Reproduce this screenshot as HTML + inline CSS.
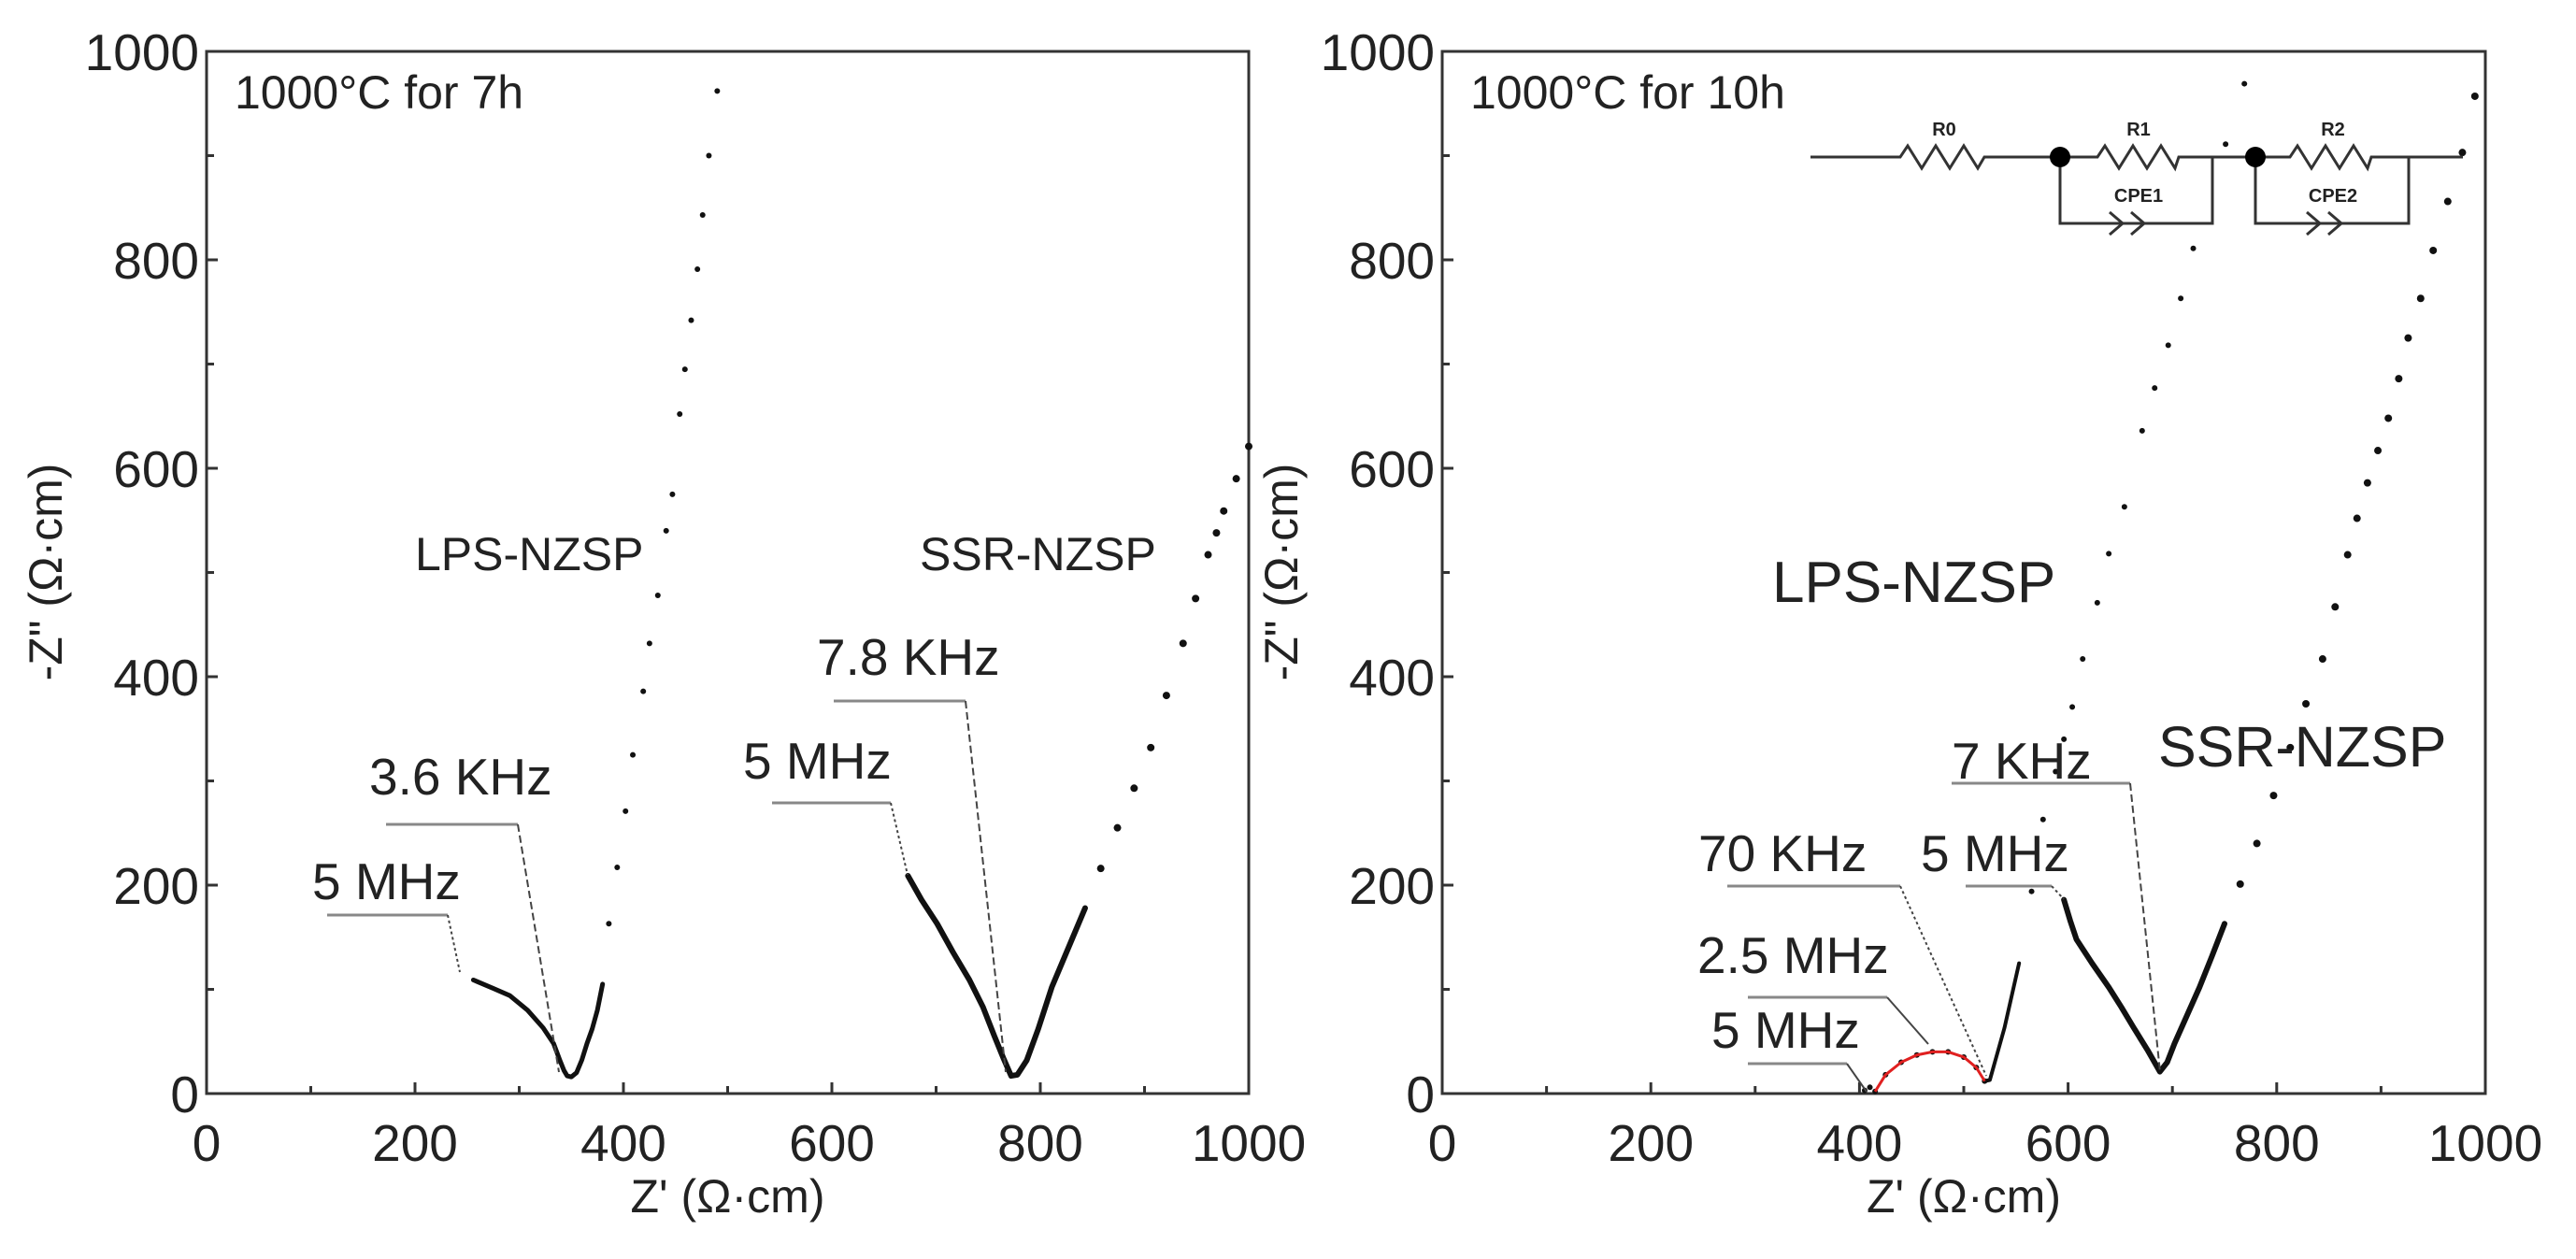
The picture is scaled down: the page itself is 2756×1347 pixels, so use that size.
<!DOCTYPE html>
<html><head><meta charset="utf-8"><style>
html,body{margin:0;padding:0;background:#fff}
svg{display:block}
text{font-family:"Liberation Sans",sans-serif;fill:#222}
</style></head><body>
<svg id="fig" width="2756" height="1347" viewBox="0 0 2756 1347" xmlns="http://www.w3.org/2000/svg">
<g id="left"></g>
<g id="right"></g>
<g id="circuit" stroke="#333" stroke-width="3" fill="none">
  <path d="M1937 168 H2033 l8 -12 l15 24 l15 -24 l15 24 l15 -24 l15 24 l7 -12 H2244 l8 -12 l15 24 l15 -24 l15 24 l15 -24 l15 24 l4 -12 H2450 l8 -12 l15 24 l15 -24 l15 24 l15 -24 l15 24 l4 -12 H2635"/>
  <path d="M2204 168 V239 H2367 V168 M2413 168 V239 H2577 V168"/>
  <path d="M2257 227 l14 12 l-14 12 M2280 227 l14 12 l-14 12 M2468 227 l14 12 l-14 12 M2491 227 l14 12 l-14 12"/>
  <circle cx="2204" cy="168" r="11" fill="#000" stroke="none"/>
  <circle cx="2413" cy="168" r="11" fill="#000" stroke="none"/>
  <text x="2080" y="145" font-size="20" font-weight="bold" text-anchor="middle" stroke="none">R0</text>
  <text x="2288" y="145" font-size="20" font-weight="bold" text-anchor="middle" stroke="none">R1</text>
  <text x="2496" y="145" font-size="20" font-weight="bold" text-anchor="middle" stroke="none">R2</text>
  <text x="2288" y="216" font-size="20" font-weight="bold" text-anchor="middle" stroke="none">CPE1</text>
  <text x="2496" y="216" font-size="20" font-weight="bold" text-anchor="middle" stroke="none">CPE2</text>
</g>
</svg>
<script>
const xTicks=[0,200,400,600,800,1000];
const yTicks=[0,200,400,600,800,1000];
// Left panel (7h)
const lpsDense7=[[256,109],[275,101],[291,94],[308,80],[323,63],[333,48],[339,32],[343,22],[346,17],[350,16],[355,20],[360,32],[365,48],[370,62],[375,80],[380,105]];
const lpsSparse7=[[386,163],[394,217],[402,271],[409,325],[419,386],[425,432],[433,478],[441,540],[447,575],[454,652],[459,695],[465,742],[471,791],[476,843],[482,900],[490,962]];
const ssrDense7=[[673,209],[686,186],[701,163],[716,136],[732,109],[745,83],[756,55],[765,33],[772,17],[778,18],[787,32],[798,62],[811,102],[827,140],[843,178]];
const ssrSparse7=[[858,216],[874,255],[890,293],[906,332],[921,382],[937,432],[949,475],[961,517],[969,538],[976,559],[988,590],[1000,621]];
// Right panel (10h)
const arcDots10=[[405,3],[410,6],[415,2],[425,18],[440,30],[455,37],[470,40],[485,40],[500,35],[512,25],[520,12]];
const fitArc10=[[415,2],[425,18],[440,30],[455,37],[470,40],[485,40],[500,35],[512,25],[520,12]];
const lpsDense10=[[520,12],[525,13],[532,38],[539,63],[546,94],[553,125]];
const lpsSparse10=[[565,194],[576,263],[588,309],[596,340],[604,371],[614,417],[628,471],[639,518],[654,563],[671,636],[683,677],[696,718],[708,763],[720,811],[751,911],[769,969]];
const ssrDense10=[[596,186],[602,166],[608,148],[623,125],[639,102],[651,83],[663,63],[676,42],[688,21],[695,30],[702,48],[714,75],[726,102],[738,132],[750,163]];
const ssrSparse10=[[765,201],[781,240],[797,286],[813,332],[828,374],[844,417],[856,467],[868,517],[877,552],[887,586],[897,617],[907,648],[917,686],[926,725],[938,763],[950,809],[964,856],[978,903],[990,957]];

const NS='http://www.w3.org/2000/svg';
function mk(tag,attrs,parent,txt){const e=document.createElementNS(NS,tag);for(const k in attrs)e.setAttribute(k,attrs[k]);if(txt!==undefined)e.textContent=txt;parent.appendChild(e);return e;}

function panel(g,x0,x1,y0,y1,title){
  const sx=v=>x0+(v/1000)*(x1-x0);
  const sy=v=>y0-(v/1000)*(y0-y1);
  const frame=mk('rect',{x:x0,y:y1,width:x1-x0,height:y0-y1,fill:'none',stroke:'#333','stroke-width':3},g);
  
  
  for(let v=0;v<=1000;v+=100){
    const L=(v%200===0)?12:8;
    const tx=mk('line',{x1:sx(v),x2:sx(v),y1:y0,y2:y0-L,stroke:'#333','stroke-width':3},g);
    
    
    const ty=mk('line',{x1:x0,x2:x0+L,y1:sy(v),y2:sy(v),stroke:'#333','stroke-width':3},g);
    
    
  }
  xTicks.forEach(v=>{const t=mk('text',{x:sx(v),y:y0+72,'font-size':55,'text-anchor':'middle'},g,String(v));
    
    });
  yTicks.forEach(v=>{const t=mk('text',{x:x0-8,y:sy(v)+20,'font-size':55,'text-anchor':'end'},g,String(v));
    
    });
  const xt=mk('text',{x:(x0+x1)/2,y:1297,'font-size':50,'text-anchor':'middle'},g,"Z' (Ω·cm)");
  
  
  const yt=mk('text',{x:0,y:0,'font-size':50,'text-anchor':'middle',transform:`translate(${x0-155},612) rotate(-90)`},g,'-Z" (Ω·cm)');
  
  
  const tt=mk('text',{x:x0+30,y:116,'font-size':50},g,title);
  
  
  return {sx,sy};
}
function dense(g,s,pts,name,w){
  const d=pts.map((p,i)=>(i?'L':'M')+s.sx(p[0])+' '+s.sy(p[1])).join(' ');
  const p=mk('path',{d,fill:'none',stroke:'#111','stroke-width':w,'stroke-linejoin':'round','stroke-linecap':'round'},g);
  
  
}
function dots(g,s,pts,name,r){
  pts.forEach(p=>{const c=mk('circle',{cx:s.sx(p[0]),cy:s.sy(p[1]),r,fill:'#111'},g);
    
    });
}
function note(g,txt,tx,ty,size,lx1,lx2,ly,ex,ey,dash){
  const t=mk('text',{x:tx,y:ty,'font-size':size},g,txt);
  
  
  if(lx1!==null){
    const l=mk('path',{d:`M${lx1} ${ly} H${lx2}`,stroke:'#888','stroke-width':3,fill:'none'},g);
    
    
    const l2=mk('path',{d:`M${lx2} ${ly} L${ex} ${ey}`,stroke:'#444','stroke-width':2,fill:'none','stroke-dasharray':dash},g);
    
    
  }
}
const gl=document.getElementById('left');
const sL=panel(gl,221,1336,1170,55,'1000°C for 7h');
dense(gl,sL,lpsDense7,'lps-7h-series',5);
dots(gl,sL,lpsSparse7,'lps-7h-point',3);
dense(gl,sL,ssrDense7,'ssr-7h-series',6);
dots(gl,sL,ssrSparse7,'ssr-7h-point',4);
note(gl,'5 MHz',334,962,55,350,479,979,492,1040,'3 3');
note(gl,'3.6 KHz',395,850,55,413,554,882,598,1147,'8 4');
note(gl,'7.8 KHz',874,722,55,892,1033,750,1076,1147,'8 4');
note(gl,'5 MHz',795,833,55,826,953,859,971,936,'3 3');
note(gl,'LPS-NZSP',444,610,50,null);
note(gl,'SSR-NZSP',984,610,50,null);

const gr=document.getElementById('right');
const sR=panel(gr,1543,2659,1170,55,'1000°C for 10h');
dots(gr,sR,arcDots10,'arc-10h-point',3);
dense(gr,sR,lpsDense10,'lps-10h-series',4);
dots(gr,sR,lpsSparse10,'lps-10h-point',3);
dense(gr,sR,ssrDense10,'ssr-10h-series',6);
dots(gr,sR,ssrSparse10,'ssr-10h-point',4);
(function(){const d=fitArc10.map((p,i)=>(i?'L':'M')+sR.sx(p[0])+' '+sR.sy(p[1])).join(' ');
  const p=mk('path',{d,fill:'none',stroke:'#e02020','stroke-width':3},gr);
  
  })();
note(gr,'7 KHz',2088,833,55,2088,2279,838,2311,1147,'8 4');
note(gr,'70 KHz',1817,932,55,1848,2033,948,2125,1151,'3 3');
note(gr,'5 MHz',2055,932,55,2103,2195,948,2208,962,'3 3');
note(gr,'2.5 MHz',1816,1041,55,1870,2019,1067,2063,1117,'none');
note(gr,'5 MHz',1831,1121,55,1870,1976,1138,1997,1168,'none');
note(gr,'LPS-NZSP',1896,644,62,null);
note(gr,'SSR-NZSP',2309,820,61,null);
</script>
</body></html>
